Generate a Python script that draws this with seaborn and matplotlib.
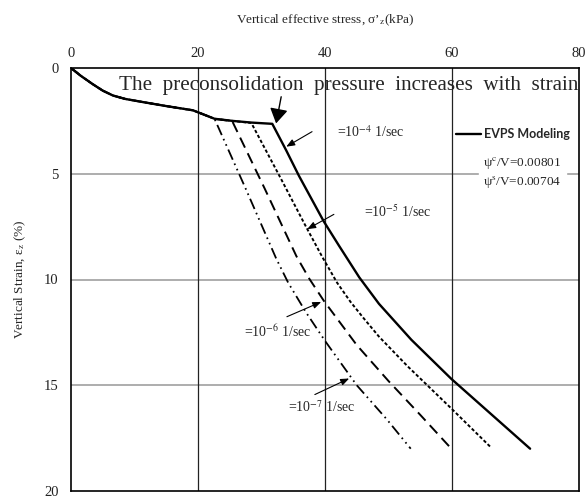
import numpy as np
import pandas as pd
import matplotlib
matplotlib.use("Agg")
import matplotlib.pyplot as plt
import seaborn as sns

# ---------------- data ----------------
x_ticks = [0, 20, 40, 60, 80]
y_ticks = [0, 5, 10, 15, 20]

# shared initial part
init_x = [0, 1.5, 3.4, 5.0, 6.6, 8.5, 11.3, 15.0, 19.2, 22.6]
init_y = [0, 0.36, 0.76, 1.07, 1.3, 1.46, 1.61, 1.8, 2.0, 2.4]

rate4_x = init_x + [25.4, 28.4, 31.7, 33.9, 35.9, 39.8, 42.2, 45.4, 48.5, 53.6, 59.9, 72.3]
rate4_y = init_y + [2.5, 2.58, 2.64, 3.9, 5.1, 7.25, 8.4, 9.9, 11.15, 12.85, 14.7, 18.0]

rate5_x = init_x + [25.4, 28.4, 33.0, 37.0, 39.6, 41.9, 44.0, 46.0, 48.5, 53.0, 59.9, 66.0]
rate5_y = init_y + [2.5, 2.6, 5.2, 7.5, 8.95, 10.15, 11.05, 11.8, 12.7, 14.1, 16.1, 17.9]

rate6_x = init_x + [25.4, 30.5, 35.5, 37.5, 39.8, 45.0, 50.0, 55.0, 59.9]
rate6_y = init_y + [2.52, 5.7, 8.9, 9.95, 11.0, 13.1, 14.8, 16.4, 18.0]

rate7_x = init_x + [27.5, 32.3, 34.2, 37.0, 40.0, 45.0, 49.7, 53.5]
rate7_y = init_y + [5.7, 9.0, 10.15, 11.55, 12.9, 15.0, 16.6, 18.0]

rate_labels = [r"=10$^{-4}$ 1/sec", r"=10$^{-5}$ 1/sec", r"=10$^{-6}$ 1/sec", r"=10$^{-7}$ 1/sec"]

# ---------------- style ----------------
sns.set_style("white")
plt.rcParams["font.family"] = ["Liberation Serif", "DejaVu Serif"]
plt.rcParams["mathtext.fontset"] = "stix"
plt.rcParams["lines.scale_dashes"] = False

fig = plt.figure(figsize=(5.85, 4.99), dpi=100)
ax = fig.add_axes([71 / 585, 1 - 491 / 499, (579 - 71) / 585, (491 - 68) / 499])

# grid lines
for yv in [5, 10, 15]:
    ax.axhline(yv, color="#a0a0a0", lw=1.2, zorder=1)
for xv in [20, 40, 60]:
    ax.axvline(xv, color="#222222", lw=0.9, zorder=1)

data = {
    "1e-4": (rate4_x, rate4_y),
    "1e-5": (rate5_x, rate5_y),
    "1e-6": (rate6_x, rate6_y),
    "1e-7": (rate7_x, rate7_y),
}
dashes = {
    "1e-4": None,
    "1e-5": (2.4, 1.6),
    "1e-6": (8, 4.5),
    "1e-7": (8, 3, 1.2, 3, 1.2, 3),
}
widths = {"1e-4": 1.7, "1e-5": 1.4, "1e-6": 1.4, "1e-7": 1.3}

for name in ["1e-7", "1e-6", "1e-5", "1e-4"]:
    xs, ys = data[name]
    df = pd.DataFrame({"stress": xs, "strain": ys})
    sns.lineplot(data=df, x="stress", y="strain", ax=ax, sort=False,
                 estimator=None, color="black", lw=widths[name], zorder=3)
    if dashes[name] is not None:
        ax.lines[-1].set_dashes(dashes[name])

ax.set_xlim(0, 80)
ax.set_ylim(20, 0)
ax.xaxis.tick_top()
ax.xaxis.set_label_position("top")
ax.set_xticks(x_ticks)
ax.set_yticks(y_ticks)
ax.set_xticklabels([str(v) for v in x_ticks])
ax.set_yticklabels([str(v) for v in y_ticks])
ax.tick_params(axis="both", length=0, labelsize=10.5, colors="#222222")
ax.tick_params(axis="x", pad=6)
ax.tick_params(axis="y", pad=9)
for s in ax.spines.values():
    s.set_color("black")
    s.set_linewidth(1.2)

ax.set_xlabel(r"Vertical effective stress, σ’$_{\mathrm{z}}$(kPa)", fontsize=9.5, labelpad=17)
ax.set_ylabel(r"Vertical Strain, ε$_{\mathrm{z}}$ (%)", fontsize=9.5, labelpad=11)

# annotation inside
ax.text(7.6, 0.85, "The  preconsolidation  pressure  increases  with  strain",
        fontsize=15.2, ha="left", va="center", zorder=4)
ax.annotate("", xy=(32.3, 2.62), xytext=(33.1, 1.36),
            arrowprops=dict(arrowstyle="-|>,head_length=0.9,head_width=0.55",
                            color="black", lw=1.0, shrinkA=0, shrinkB=0),
            zorder=5)

# rate labels with arrows
label_pos = [(41.9, 3.01), (46.1, 6.78), (27.3, 12.47), (34.2, 16.05)]
arrows = [((37.96, 3.01), (33.9, 3.72)),
          ((41.4, 6.92), (37.2, 7.62)),
          ((34.0, 11.76), (39.4, 11.06)),
          ((38.4, 15.44), (43.8, 14.68))]
for lab, (tx, ty), (a0, a1) in zip(rate_labels, label_pos, arrows):
    ax.text(tx, ty, lab, fontsize=10, ha="left", va="center", zorder=4)
    ax.annotate("", xy=a1, xytext=a0,
                arrowprops=dict(arrowstyle="-|>,head_length=0.5,head_width=0.2",
                                color="black", lw=0.8, shrinkA=0, shrinkB=0),
                zorder=5)

# legend-like block
ax.plot([60.7, 64.5], [3.1, 3.1], color="black", lw=1.7, zorder=4)
ax.text(65.0, 3.1, "EVPS Modeling", fontsize=9, fontweight="bold",
        family=["Lato", "DejaVu Sans"], ha="left", va="center", zorder=4)
ax.fill_between([64.2, 78.0], 3.8, 6.0, color="white", zorder=2)
ax.text(71.0, 4.47, r"ψ$^{\mathrm{c}}$/V=0.00801", fontsize=9.5, ha="center", va="center", zorder=4)
ax.text(71.0, 5.41, r"ψ$^{\mathrm{s}}$/V=0.00704", fontsize=9.5, ha="center", va="center", zorder=4)

fig.savefig("out.png", dpi=100)
